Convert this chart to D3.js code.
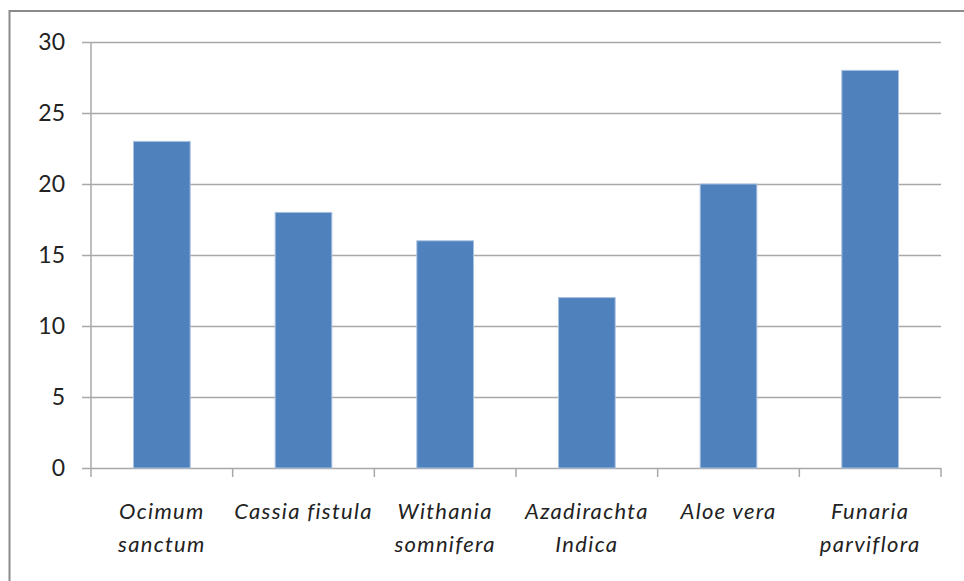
<!DOCTYPE html>
<html>
<head>
<meta charset="utf-8">
<script src="https://cdn.jsdelivr.net/npm/d3@7"></script>
<style>
  html, body { margin: 0; padding: 0; background: #fff; }
  svg { display: block; }
  text { font-family: Lato, "Noto Sans", sans-serif; fill: #222; }
</style>
</head>
<body>
<svg id="chart" width="964" height="581"></svg>
<script>
// Plant species and measured values
const categories = [
  ["Ocimum", "sanctum"],
  ["Cassia fistula"],
  ["Withania", "somnifera"],
  ["Azadirachta", "Indica"],
  ["Aloe vera"],
  ["Funaria", "parviflora"]
];
const values = [23, 18, 16, 12, 20, 28];
const yTicks = [0, 5, 10, 15, 20, 25, 30];

const svg = d3.select("#chart");
const W = 964, H = 581;
const margin = { left: 91, right: 23, top: 42, bottom: 113 };
const plotW = W - margin.left - margin.right;
const plotH = H - margin.top - margin.bottom;

// Outer frame (runs off the right and bottom edges)
svg.append("rect")
  .attr("x", 9.5).attr("y", 11)
  .attr("width", 1000).attr("height", 1000)
  .attr("fill", "#fff")
  .attr("stroke", "#8a8a8a").attr("stroke-width", 2);

const g = svg.append("g").attr("transform", `translate(${margin.left},${margin.top})`);

const x = d3.scaleBand()
  .domain(categories.map((d, i) => i))
  .range([0, plotW])
  .paddingInner(0.6).paddingOuter(0.3);

const y = d3.scaleLinear().domain([0, 30]).range([plotH, 0]);

const gridColor = "#a8a8a8";

// Horizontal gridlines with left tick marks and labels
const yAxis = g.append("g")
  .call(d3.axisLeft(y).tickValues(yTicks).tickSize(-plotW).tickPadding(26).tickSizeOuter(0));
yAxis.select(".domain").remove();
yAxis.selectAll(".tick line")
  .attr("x1", -9)
  .attr("stroke", gridColor).attr("stroke-width", 1.5);
yAxis.selectAll(".tick text")
  .attr("font-size", 23).attr("font-family", "Lato, sans-serif").attr("fill", "#222");

// Vertical axis line
g.append("line")
  .attr("x1", 0).attr("x2", 0).attr("y1", 0).attr("y2", plotH)
  .attr("stroke", gridColor).attr("stroke-width", 1.5);

// Category boundary ticks on the baseline
const bounds = d3.range(categories.length + 1).map(i => i * plotW / categories.length);
g.selectAll(".xtick").data(bounds).join("line")
  .attr("class", "xtick")
  .attr("x1", d => d).attr("x2", d => d)
  .attr("y1", plotH).attr("y2", plotH + 9)
  .attr("stroke", gridColor).attr("stroke-width", 1.5);

// Bars
g.selectAll(".bar").data(values).join("rect")
  .attr("class", "bar")
  .attr("x", (d, i) => x(i))
  .attr("width", x.bandwidth())
  .attr("y", d => y(d))
  .attr("height", d => plotH - y(d))
  .attr("fill", "#4f81bd")
  .attr("stroke", "#a9c1e0").attr("stroke-width", 1);

// Italic category labels, one or two lines each
const labels = g.selectAll(".xlabel").data(categories).join("text")
  .attr("class", "xlabel")
  .attr("text-anchor", "middle")
  .attr("font-size", 22)
  .attr("font-style", "italic")
  .attr("letter-spacing", 1.3)
  .attr("transform", (d, i) => `translate(${x(i) + x.bandwidth() / 2},${plotH + 51})`);
labels.selectAll("tspan").data(d => d).join("tspan")
  .attr("x", 0)
  .attr("y", (d, j) => j * 33)
  .text(d => d);
</script>
</body>
</html>
